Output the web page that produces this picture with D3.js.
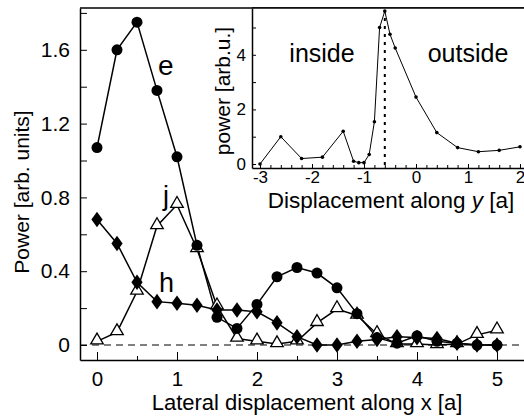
<!DOCTYPE html>
<meta charset="utf-8">
<style>
body { margin: 0; background: #fff; }
text { font-family: "Liberation Sans", Arial, sans-serif; fill: #000; }
.axis path, .axis line { stroke: #000; }
</style>
<svg width="524" height="416"></svg>
<script src="https://cdn.jsdelivr.net/npm/d3@7"></script>
<script>

var svg = d3.select("svg");

// main chart data: lateral displacement along x [a]
var xPos = [0, 0.25, 0.5, 0.75, 1, 1.25, 1.5, 1.75, 2, 2.25, 2.5, 2.75, 3, 3.25, 3.5, 3.75, 4, 4.25, 4.5, 4.75, 5];
var eVals = [1.07, 1.60, 1.75, 1.38, 1.02, 0.54, 0.15, 0.09, 0.22, 0.37, 0.42, 0.39, 0.31, 0.17, 0.04, 0.01, 0.05, 0.02, 0.01, 0.0, 0.0];
var hVals = [0.68, 0.55, 0.34, 0.235, 0.226, 0.215, 0.19, 0.19, 0.18, 0.12, 0.045, 0.0, 0.0, 0.02, 0.03, 0.045, 0.04, 0.035, 0.01, 0.0, 0.0];
var jVals = [0.02, 0.07, 0.29, 0.645, 0.76, 0.52, 0.21, 0.035, 0.02, 0.005, 0.02, 0.12, 0.195, 0.16, 0.06, 0.005, 0.005, 0.0, 0.005, 0.055, 0.08];
var xTicks = [0, 1, 2, 3, 4, 5];
var yTicks = [0, 0.4, 0.8, 1.2, 1.6];

// inset data: displacement along y [a]
var insetX = [-3, -2.6, -2.2, -1.8, -1.4, -1.2, -1.1, -1.0, -0.9, -0.8, -0.7, -0.6, -0.5, -0.4, 0, 0.4, 0.8, 1.2, 1.6, 2.0];
var insetP = [0.0, 1.0, 0.2, 0.25, 1.2, 0.1, 0.05, 0.05, 0.35, 1.55, 5.0, 5.6, 4.75, 4.25, 2.45, 1.15, 0.6, 0.45, 0.5, 0.63];
var insetXTicks = [-3, -2, -1, 0, 1, 2];
var insetYTicks = [0, 2, 4];
var boundary = -0.6;

// ---------------- main plot ----------------
var x = d3.scaleLinear().domain([-0.2125, 5.3375]).range([80, 524]);
var y = d3.scaleLinear().domain([-0.0813, 1.8266]).range([360, 8]);

// frame: top line
svg.append("line")
   .attr("x1", 80).attr("x2", 524).attr("y1", 8).attr("y2", 8)
   .attr("stroke", "#000").attr("stroke-width", 1.5);

// minor x ticks
svg.append("g")
   .attr("class", "axis")
   .attr("transform", "translate(0,360)")
   .call(d3.axisBottom(x).tickValues(d3.range(0.5, 5.01, 1)).tickSizeInner(-4).tickSizeOuter(0).tickFormat(""))
   .call(g => g.select(".domain").remove());

var xAxis = svg.append("g")
   .attr("class", "axis")
   .attr("transform", "translate(0,360)")
   .call(d3.axisBottom(x).tickValues(xTicks).tickSizeInner(-8).tickSizeOuter(0).tickPadding(11).tickFormat(d => String(d)));
xAxis.selectAll("text").style("font-size", "20.5px").attr("fill", "#000");
xAxis.select(".domain").attr("stroke-width", 1.5);

var yAxis = svg.append("g")
   .attr("class", "axis")
   .attr("transform", "translate(80,0)")
   .call(d3.axisLeft(y).tickValues(d3.range(0, 1.81, 0.2)).tickSizeInner(-7).tickSizeOuter(0).tickPadding(10)
         .tickFormat(d => yTicks.some(t => Math.abs(t - d) < 1e-6) ? (Math.abs(d) < 1e-6 ? "0" : d3.format(".1f")(d)) : ""));
yAxis.selectAll("text").style("font-size", "21px").attr("fill", "#000");
yAxis.select(".domain").attr("stroke-width", 1.5);

// zero line
svg.append("line")
   .attr("x1", 80).attr("x2", 524).attr("y1", y(0)).attr("y2", y(0))
   .attr("stroke", "#000").attr("stroke-width", 1)
   .style("stroke-dasharray", "7,5");

var line = d3.line().x(d => x(d[0])).y(d => y(d[1]));

function series(vals) {
        return xPos.map((d, i) => [d, vals[i]]);
}

[eVals, hVals, jVals].forEach(function (vals) {
        svg.append("path")
           .datum(series(vals))
           .attr("d", line)
           .attr("fill", "none")
           .attr("stroke", "#000")
           .attr("stroke-width", 1.5);
});

svg.append("g").selectAll("path")
   .data(series(jVals))
   .join("path")
   .attr("d", d3.symbol().type(d3.symbolTriangle).size(68))
   .attr("transform", d => "translate(" + x(d[0]) + "," + (y(d[1]) - 1) + ")")
   .attr("fill", "#fff")
   .attr("stroke", "#000")
   .attr("stroke-width", 1.3);

svg.append("g").selectAll("path")
   .data(series(hVals))
   .join("path")
   .attr("d", d3.symbol().type(d3.symbolDiamond).size(70))
   .attr("transform", d => "translate(" + x(d[0]) + "," + y(d[1]) + ") scale(1.25,1)")
   .attr("fill", "#000");

svg.append("g").selectAll("circle")
   .data(series(eVals))
   .join("circle")
   .attr("cx", d => x(d[0]))
   .attr("cy", d => y(d[1]))
   .attr("r", 5.5)
   .attr("fill", "#000");

svg.append("text").attr("x", 158).attr("y", 75).style("font-size", "28px").text("e");
svg.append("text").attr("x", 163).attr("y", 205).style("font-size", "27px").text("j");
svg.append("text").attr("x", 159).attr("y", 292).style("font-size", "27px").text("h");

svg.append("text")
   .attr("x", 307).attr("y", 410)
   .attr("text-anchor", "middle")
   .style("font-size", "22px")
   .text("Lateral displacement along x [a]");

svg.append("text")
   .attr("transform", "translate(29,192) rotate(-90)")
   .attr("text-anchor", "middle")
   .style("font-size", "21px")
   .text("Power [arb. units]");

// ---------------- inset ----------------
var ix = d3.scaleLinear().domain([-3.154, 2.077]).range([252, 524]);
var iy = d3.scaleLinear().domain([-0.1465, 5.714]).range([168, 8]);

svg.append("rect")
   .attr("x", 252).attr("y", 8).attr("width", 272).attr("height", 160)
   .attr("fill", "#fff");

svg.append("line")
   .attr("x1", ix(boundary)).attr("x2", ix(boundary)).attr("y1", 10).attr("y2", 168)
   .attr("stroke", "#000").attr("stroke-width", 2)
   .style("stroke-dasharray", "3,5");

svg.append("g")
   .attr("class", "axis")
   .attr("transform", "translate(0,168)")
   .call(d3.axisBottom(ix).tickValues(d3.range(-3, 2.01, 0.2)).tickSizeInner(-3).tickSizeOuter(0).tickFormat(""))
   .call(g => g.select(".domain").remove());

var ixAxis = svg.append("g")
   .attr("class", "axis")
   .attr("transform", "translate(0,168)")
   .call(d3.axisBottom(ix).tickValues(insetXTicks).tickSizeInner(-4).tickSizeOuter(0).tickPadding(3).tickFormat(d => String(d)));
ixAxis.selectAll("text").style("font-size", "17px").attr("fill", "#000");
ixAxis.select(".domain").attr("stroke-width", 1.5);

var iyAxis = svg.append("g")
   .attr("class", "axis")
   .attr("transform", "translate(252,0)")
   .call(d3.axisLeft(iy).tickValues(d3.range(0, 5.1, 1)).tickSizeInner(-4).tickSizeOuter(0).tickPadding(6)
         .tickFormat(d => insetYTicks.indexOf(d) >= 0 ? d : ""));
iyAxis.selectAll("text").style("font-size", "17px").attr("fill", "#000");
iyAxis.select(".domain").attr("stroke-width", 1.5);

svg.append("line")
   .attr("x1", 252).attr("x2", 524).attr("y1", 8).attr("y2", 8)
   .attr("stroke", "#000").attr("stroke-width", 1.5);

var iline = d3.line().x(d => ix(d[0])).y(d => iy(d[1]));
var ipts = insetX.map((d, i) => [d, insetP[i]]);

svg.append("path")
   .datum(ipts)
   .attr("d", iline)
   .attr("fill", "none")
   .attr("stroke", "#000")
   .attr("stroke-width", 1);

svg.append("g").selectAll("circle")
   .data(ipts)
   .join("circle")
   .attr("cx", d => ix(d[0]))
   .attr("cy", d => iy(d[1]))
   .attr("r", 1.8)
   .attr("fill", "#000");

svg.append("text").attr("x", 322).attr("y", 62).attr("text-anchor", "middle").style("font-size", "25px").text("inside");
svg.append("text").attr("x", 468).attr("y", 62).attr("text-anchor", "middle").style("font-size", "25px").text("outside");

var ilab = svg.append("text")
   .attr("x", 391).attr("y", 208)
   .attr("text-anchor", "middle")
   .style("font-size", "22.5px");
ilab.append("tspan").text("Displacement along ");
ilab.append("tspan").style("font-style", "italic").text("y");
ilab.append("tspan").text(" [a]");

svg.append("text")
   .attr("transform", "translate(230,91) rotate(-90)")
   .attr("text-anchor", "middle")
   .style("font-size", "21px")
   .text("power [arb.u.]");

</script>
